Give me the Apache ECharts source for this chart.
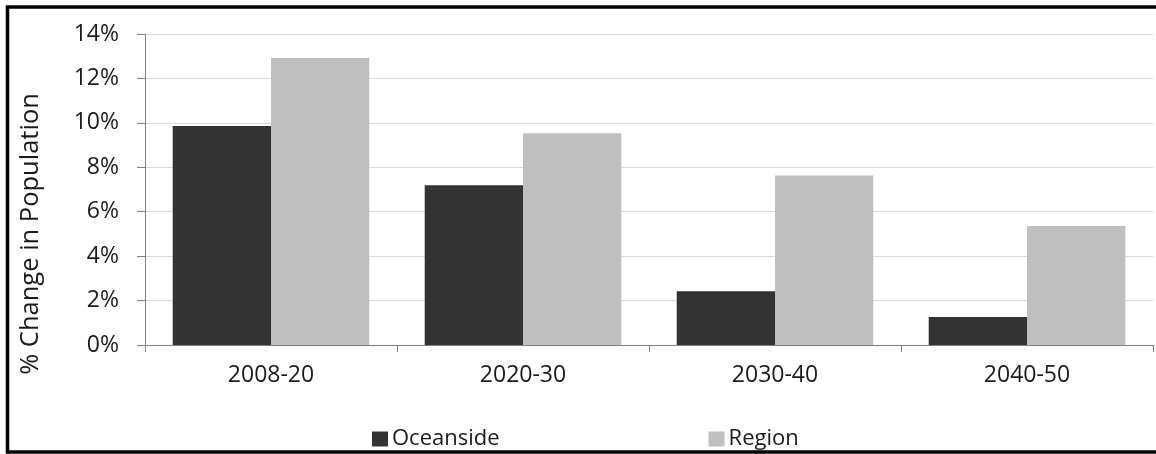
<!DOCTYPE html>
<html>
<head>
<meta charset="utf-8">
<script src="https://cdn.jsdelivr.net/npm/echarts@6/dist/echarts.min.js"></script>
<style>
  html, body { margin: 0; padding: 0; background: #fff; }
  #chart { width: 1156px; height: 454px; }
</style>
</head>
<body>
<div id="chart"></div>
<script>
const categories = ['2008-20', '2020-30', '2030-40', '2040-50'];
const oceanside = [9.86, 7.19, 2.42, 1.26];
const region = [12.92, 9.53, 7.63, 5.36];
const seriesNames = ['Oceanside', 'Region'];
const yAxisTitle = '% Change in Population';

const font = '"Open Sans", "Noto Sans", sans-serif';
const chart = echarts.init(document.getElementById('chart'), null, { renderer: 'canvas' });
chart.setOption({
  animation: false,
  backgroundColor: '#ffffff',
  grid: { left: 145, right: 3, top: 34, bottom: 109, containLabel: false },
  legend: {
    data: seriesNames,
    left: 367,
    top: 423,
    itemWidth: 16,
    itemHeight: 15,
    itemGap: 209,
    icon: 'rect',
    textStyle: { fontFamily: font, fontSize: 22, color: '#1a1a1a', padding: [0, 0, 0, -1] }
  },
  xAxis: {
    type: 'category',
    data: categories,
    axisLine: { lineStyle: { color: '#808080', width: 1 } },
    axisTick: { show: true, length: 7, lineStyle: { color: '#808080' } },
    axisLabel: { fontFamily: font, fontSize: 23, color: '#1a1a1a', margin: 19 }
  },
  yAxis: {
    type: 'value',
    min: 0,
    max: 14,
    interval: 2,
    axisLine: { show: true, lineStyle: { color: '#808080', width: 1 } },
    axisTick: { show: true, length: 8, lineStyle: { color: '#808080' } },
    axisLabel: { fontFamily: font, fontSize: 23, color: '#1a1a1a', margin: 26, formatter: v => v + '%' },
    splitLine: { lineStyle: { color: '#d9d9d9', width: 1 } }
  },
  series: [
    {
      name: seriesNames[0], type: 'bar', data: oceanside,
      itemStyle: { color: '#333333' },
      barGap: '0%', barCategoryGap: '22%'
    },
    {
      name: seriesNames[1], type: 'bar', data: region,
      itemStyle: { color: '#bfbfbf' },
      barGap: '0%', barCategoryGap: '22%'
    }
  ],
  graphic: [
    {
      type: 'text',
      x: 31, y: 234,
      rotation: Math.PI / 2,
      style: {
        text: yAxisTitle,
        fontFamily: font, fontSize: 25.5, fill: '#1a1a1a',
        textAlign: 'center', textVerticalAlign: 'middle'
      }
    },
    {
      type: 'rect',
      shape: { x: 7.5, y: 7, width: 1160, height: 445 },
      style: { fill: 'none', stroke: '#000', lineWidth: 3.5 },
      z: 100
    }
  ]
});
</script>
</body>
</html>
